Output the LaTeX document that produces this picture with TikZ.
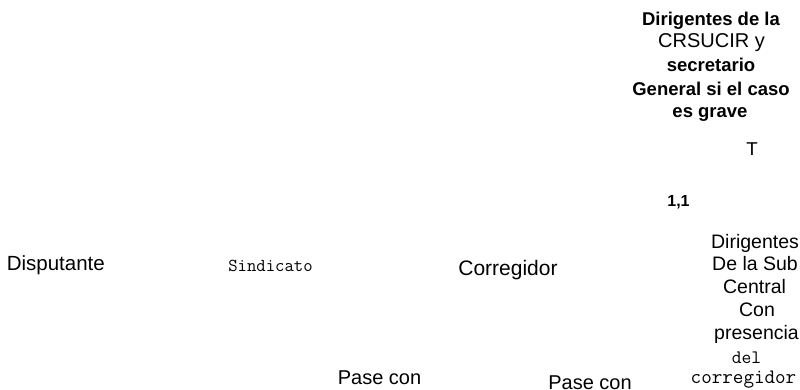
\documentclass[tikz,border=0pt]{standalone}
\usepackage{fontspec}
\setmainfont{Liberation Sans}
\setsansfont{Liberation Sans}
\tikzset{
  lbl/.style={inner sep=0pt, outer sep=0pt, anchor=base, text=black},
  reg/.style={lbl, font=\fontsize{20}{24}\selectfont},
  blk/.style={lbl, font=\fontsize{18.5}{23}\selectfont\bfseries},
  col/.style={lbl, font=\fontsize{19.5}{23}\selectfont},
  mono/.style={lbl, font=\ttfamily\fontsize{18.2}{20}\selectfont},
}
\begin{document}
\begin{tikzpicture}[x=1pt,y=-1pt]
\useasboundingbox (0,0) rectangle (800,389);
% top bold block
\node[blk] (b1) at (711,25) {Dirigentes de la};
\node[lbl, font=\fontsize{20}{24}\selectfont] (b2) at (711.5,47.7) {CRSUCIR y};
\node[blk] (b3) at (711,71.7) {secretario};
\node[blk] (b4) at (711,95) {General si el caso};
\node[blk] (b5) at (710,117.5) {es grave};
% T and 1,1
\node[lbl, font=\fontsize{18.6}{22}\selectfont] (tt) at (752,155) {T};
\node[lbl, font=\fontsize{16}{20}\selectfont\bfseries] (oo) at (678.5,206.5) {1,1};
% right column
\node[col] (c1) at (755,248) {Dirigentes};
\node[col] (c2) at (755,270.5) {De la Sub};
\node[col] (c3) at (754.5,293) {Central};
\node[col] (c4) at (757,316) {Con};
\node[col] (c5) at (756.5,339) {presencia};
\node[mono, font=\ttfamily\fontsize{19}{20}\selectfont] (c6) at (746.5,363) {del};
\node[mono, font=\ttfamily\fontsize{20.5}{22}\selectfont] (c7) at (743.5,383) {corregidor};
% main row
\node[reg, anchor=base west, font=\fontsize{20.5}{24}\selectfont] (disp) at (6.8,270) {Disputante};
\node[mono] (sind) at (270.5,271.5) {Sindicato};
\node[reg, font=\fontsize{21}{24}\selectfont] (corr) at (508,275) {Corregidor};
\node[reg] (p1) at (379.5,384) {Pase con};
\node[reg] (p2) at (590,389.5) {Pase con};
\end{tikzpicture}
\end{document}
